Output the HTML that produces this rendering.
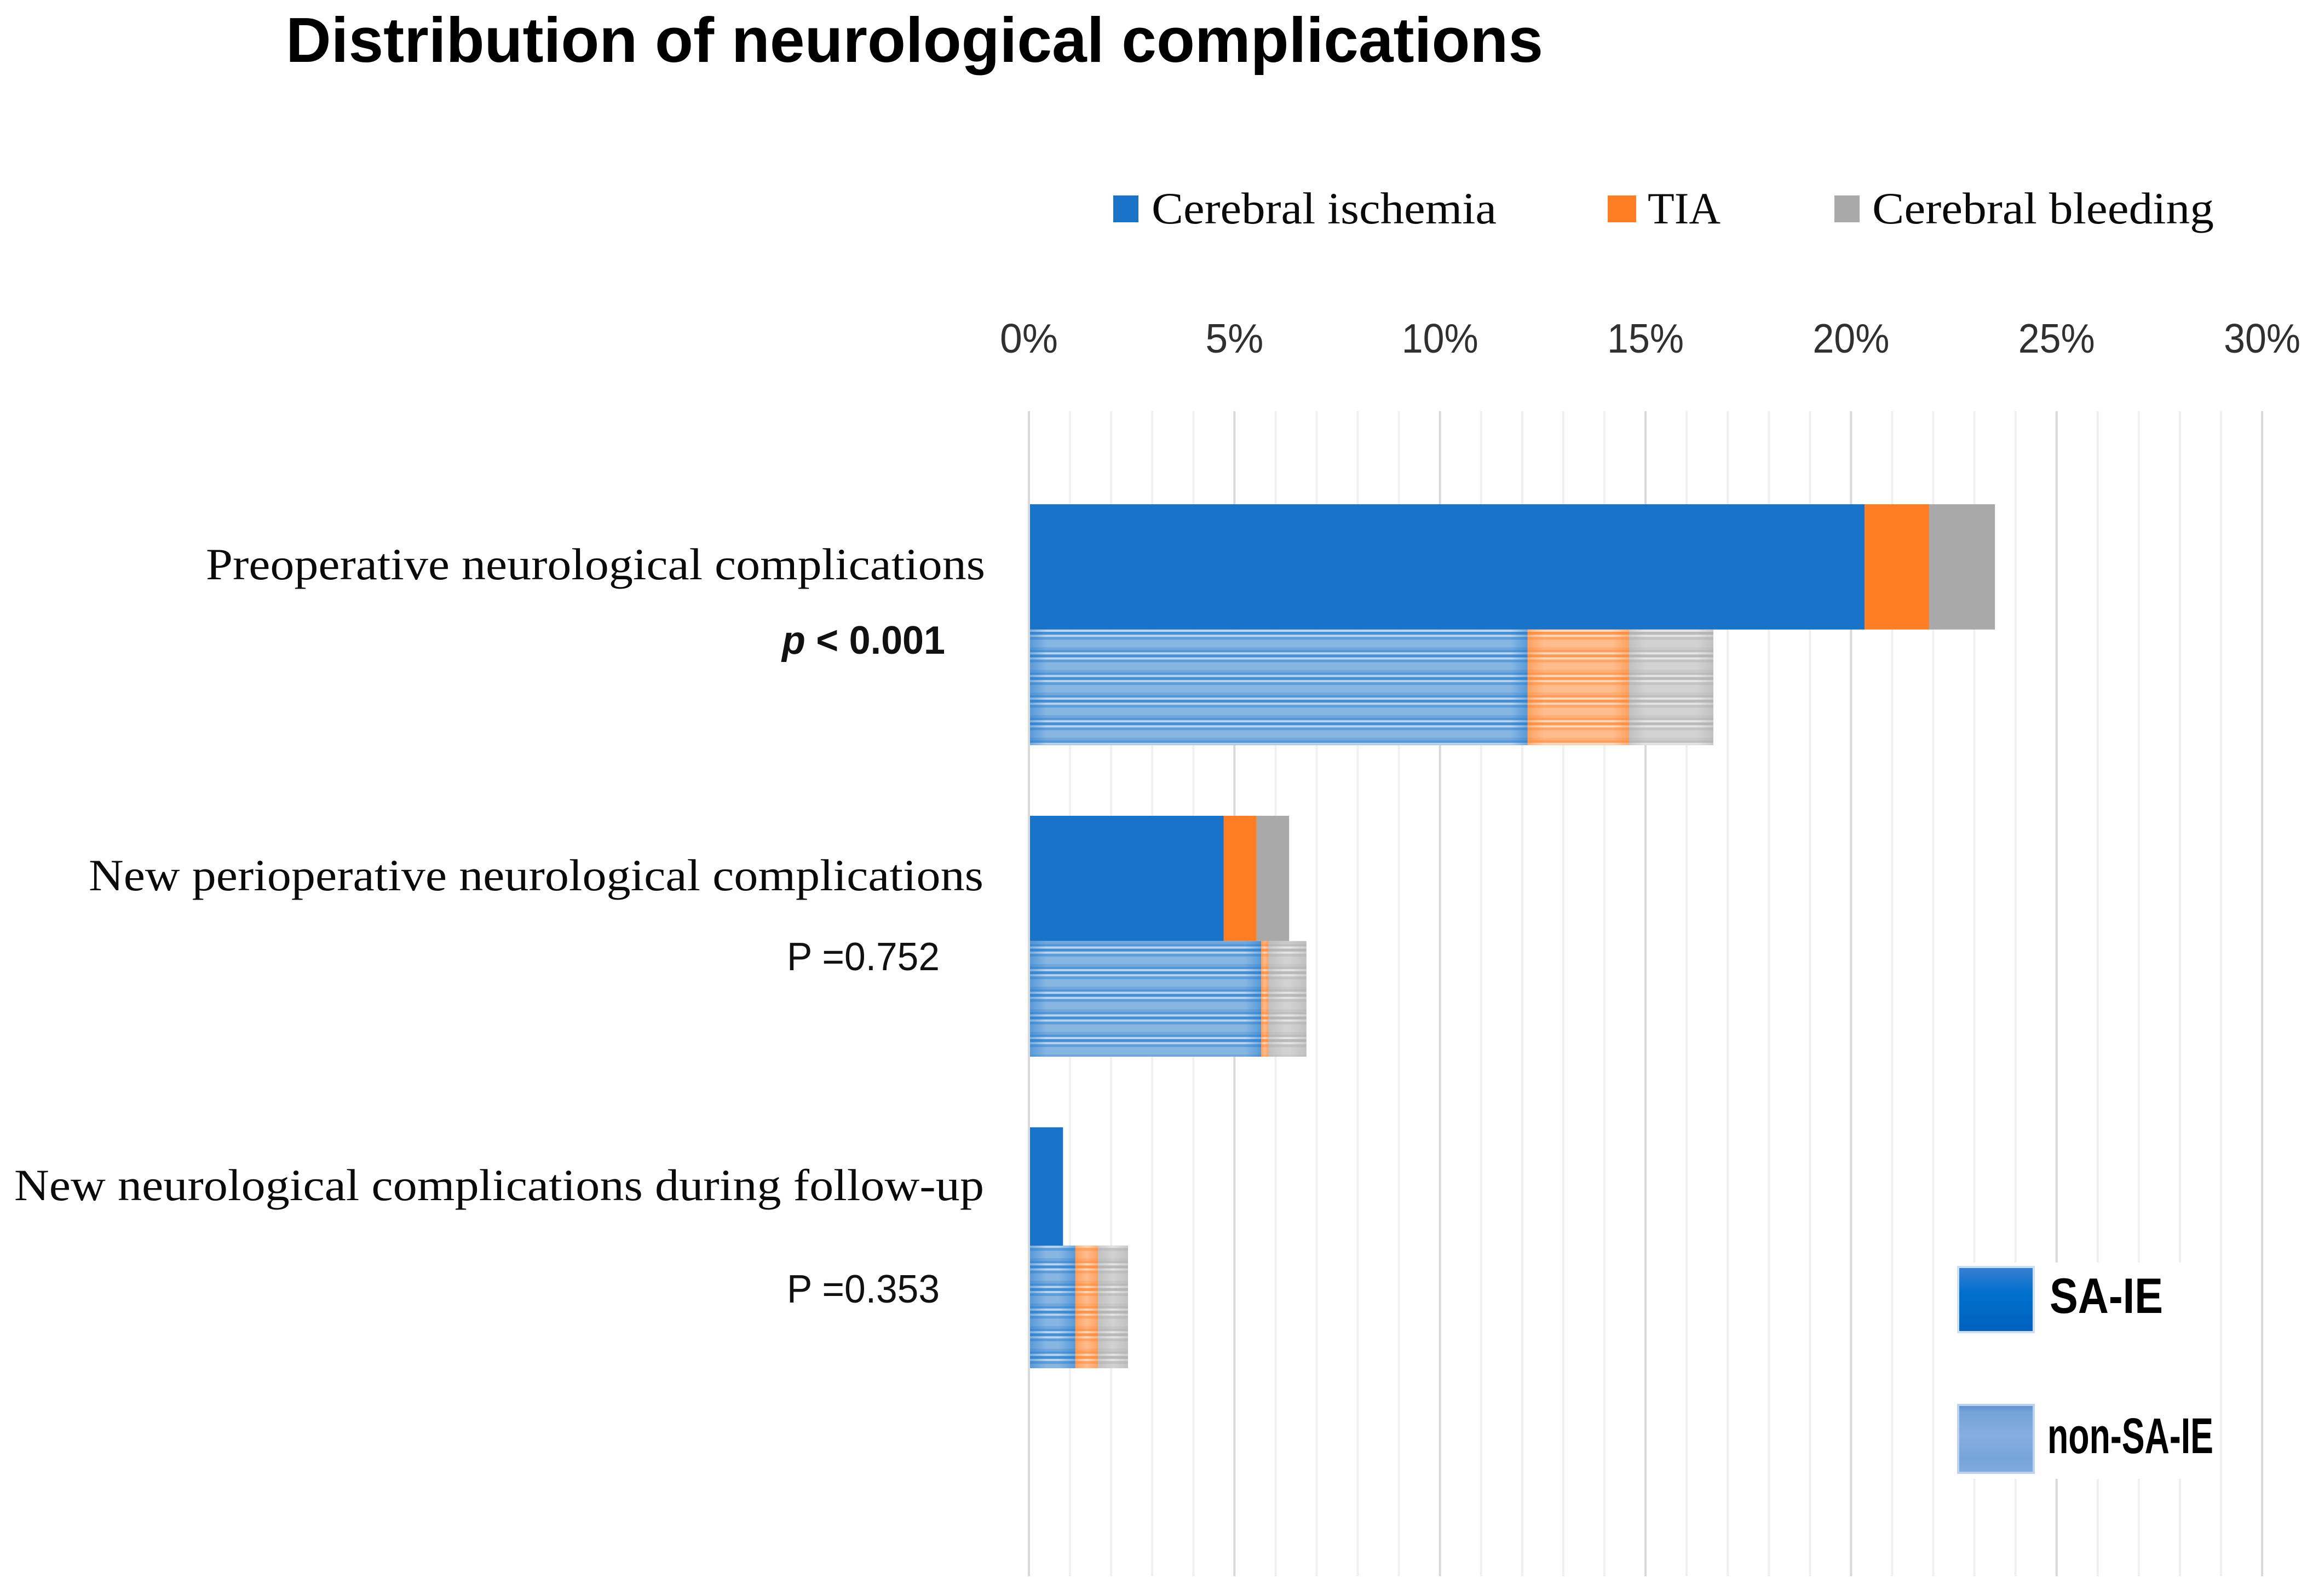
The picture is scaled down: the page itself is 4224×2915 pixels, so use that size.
<!DOCTYPE html>
<html lang="en">
<head>
<meta charset="utf-8">
<title>Distribution of neurological complications</title>
<style>
html,body{margin:0;padding:0;background:#fff;width:4224px;height:2915px;overflow:hidden}
svg{display:block}
.serif{font-family:"Liberation Serif",serif;font-size:82px;fill:#0a0a0a}
.sans{font-family:"Liberation Sans",sans-serif;font-size:72px;fill:#111}
.tick{font-family:"Liberation Sans",sans-serif;font-size:75px;fill:#303030;text-anchor:middle}
</style>
</head>
<body>
<svg id="chart" xmlns="http://www.w3.org/2000/svg" width="4224" height="2915" viewBox="0 0 4224 2915">
  <defs>
    <pattern id="stripes" patternUnits="userSpaceOnUse" width="40" height="41.33" y="1150">
      <rect width="40" height="4" y="0" fill="#fff" opacity=".7"/>
      <rect width="40" height="5.3" y="4" fill="#fff" opacity=".2"/>
      <rect width="40" height="4" y="9.3" fill="#fff" opacity=".7"/>
      <rect width="40" height="5" y="13.3" fill="#fff" opacity=".3"/>
      <rect width="40" height="14" y="18.3" fill="#fff" opacity=".48"/>
      <rect width="40" height="5" y="32.3" fill="#fff" opacity=".38"/>
      <rect width="40" height="4.03" y="37.3" fill="#fff" opacity=".25"/>
    </pattern>
    <linearGradient id="swatch-solid" x1="0" y1="0" x2="0" y2="1">
      <stop offset="0" stop-color="#3b7fd2"/>
      <stop offset=".4" stop-color="#0070cd"/>
      <stop offset="1" stop-color="#0060bd"/>
    </linearGradient>
    <linearGradient id="swatch-striped" x1="0" y1="0" x2="0" y2="1">
      <stop offset="0" stop-color="#5c8fd0"/>
      <stop offset=".1" stop-color="#74a3d8"/>
      <stop offset=".45" stop-color="#86aede"/>
      <stop offset=".8" stop-color="#76a4da"/>
      <stop offset="1" stop-color="#82abdd"/>
    </linearGradient>
  </defs>

  <rect width="4224" height="2915" fill="#fff"/>

  <text x="522" y="113" font-family="'Liberation Sans',sans-serif" font-weight="700" font-size="116" fill="#000" textLength="2296" lengthAdjust="spacingAndGlyphs">Distribution of neurological complications</text>

  <g id="grid"></g>
  <g id="bars"></g>
  <g id="ticks"></g>

  <g>
    <g>
      <rect x="2033" y="357" width="46" height="49" fill="#1873c9"/>
      <text class="serif" x="2103" y="408" textLength="630" lengthAdjust="spacingAndGlyphs">Cerebral ischemia</text>
    </g>
    <g>
      <rect x="2936" y="357" width="52" height="49" fill="#ff7e25"/>
      <text class="serif" x="3009" y="408" textLength="133" lengthAdjust="spacingAndGlyphs">TIA</text>
    </g>
    <g>
      <rect x="3350" y="357" width="46" height="49" fill="#a9a9a9"/>
      <text class="serif" x="3419" y="408" textLength="624" lengthAdjust="spacingAndGlyphs">Cerebral bleeding</text>
    </g>
  </g>

  <g>
    <text class="serif" x="376" y="1058" textLength="1423" lengthAdjust="spacingAndGlyphs">Preoperative neurological complications</text>
    <text class="serif" x="162" y="1626" textLength="1634" lengthAdjust="spacingAndGlyphs">New perioperative neurological complications</text>
    <text class="serif" x="26" y="2192" textLength="1771" lengthAdjust="spacingAndGlyphs">New neurological complications during follow-up</text>
  </g>

  <g>
    <text class="sans" x="1428" y="1194" font-weight="700" textLength="298" lengthAdjust="spacingAndGlyphs"><tspan font-style="italic">p</tspan> &lt; 0.001</text>
    <text class="sans" x="1437" y="1772" textLength="279" lengthAdjust="spacingAndGlyphs">P =0.752</text>
    <text class="sans" x="1437" y="2379" textLength="279" lengthAdjust="spacingAndGlyphs">P =0.353</text>
  </g>

  <rect x="3545" y="2306" width="485" height="395" fill="#fff"/>
  <g>
    <g>
      <rect x="3576" y="2314" width="138" height="119" fill="url(#swatch-solid)" stroke="#cddff5" stroke-width="4"/>
      <text x="3743" y="2398" font-family="'Liberation Sans',sans-serif" font-weight="700" font-size="91" fill="#000" textLength="207" lengthAdjust="spacingAndGlyphs">SA-IE</text>
    </g>
    <g>
      <rect x="3576" y="2566" width="138" height="124" fill="url(#swatch-striped)" stroke="#bcd2ee" stroke-width="4"/>
      <text x="3739" y="2654" font-family="'Liberation Sans',sans-serif" font-weight="700" font-size="92" fill="#000" textLength="303" lengthAdjust="spacingAndGlyphs">non-SA-IE</text>
    </g>
  </g>
</svg>

<script>
// ---- chart data (percent of patients) ----
const categories = ["Preoperative neurological complications", "New perioperative neurological complications", "New neurological complications during follow-up"];
const causes = ["cerebral-ischemia", "tia", "cerebral-bleeding"];
const saIschemia = [20.33, 4.74, 0.83];
const saTia = [1.57, 0.8, 0];
const saBleeding = [1.6, 0.79, 0];
const nonSaIschemia = [12.13, 5.65, 1.13];
const nonSaTia = [2.47, 0.18, 0.55];
const nonSaBleeding = [2.05, 0.92, 0.73];
const tickValues = [0, 5, 10, 15, 20, 25, 30];
const tickLabels = ["0%", "5%", "10%", "15%", "20%", "25%", "30%"];

// ---- layout and axis functions ----
const SVG_NS = "http://www.w3.org/2000/svg";
const causeColors = ["#1873c9", "#ff7e25", "#a9a9a9"];
const plotLeft = 1879, plotPxPerPercent = 75.07, plotTop = 751, plotBottom = 2879;
const groupStart = 921, groupPitch = 569, groupHeight = 440;
const upperRowShare = [0.52, 0.52, 0.491];

function xScale(v) { return plotLeft + v * plotPxPerPercent; }
function groupTop(i) { return groupStart + i * groupPitch; }
function rowTop(i, row) { return row === 0 ? groupTop(i) : groupTop(i) + groupHeight * upperRowShare[i]; }
function rowHeight(i, row) { return row === 0 ? groupHeight * upperRowShare[i] : groupHeight * (1 - upperRowShare[i]); }

function make(tag, attrs, parent) {
  const el = document.createElementNS(SVG_NS, tag);
  for (const k in attrs) el.setAttribute(k, attrs[k]);
  parent.appendChild(el);
  return el;
}

// ---- edge-shade gradients (one per cause, each direction) ----
const defs = document.querySelector("#chart defs");
causeColors.forEach(function (color, c) {
  [["l", 0.42, 0], ["r", 0, 0.42]].forEach(function (d) {
    const g = make("linearGradient", { id: "edge-" + d[0] + c, x1: 0, y1: 0, x2: 1, y2: 0 }, defs);
    make("stop", { offset: 0, "stop-color": color, "stop-opacity": d[1] }, g);
    make("stop", { offset: 1, "stop-color": color, "stop-opacity": d[2] }, g);
  });
});

// ---- gridlines ----
const grid = document.getElementById("grid");
for (let p = 0; p <= 30; p++) {
  const major = tickValues.indexOf(p) >= 0;
  const line = make("line", {
    x1: xScale(p), x2: xScale(p), y1: plotTop, y2: plotBottom,
    stroke: major ? "#d9d9d9" : "#f0f0f0", "stroke-width": 4
  }, grid);
  
  
}

// ---- tick labels ----
const ticksGroup = document.getElementById("ticks");
tickLabels.forEach(function (label, i) {
  const t = make("text", {
    class: "tick", x: xScale(tickValues[i]), y: 644,
    textLength: label.length === 2 ? 106 : 140, lengthAdjust: "spacingAndGlyphs"
  }, ticksGroup);
  t.textContent = label;
  
  
});

// ---- stacked bars ----
const barsGroup = document.getElementById("bars");
function drawRow(row, series, rowName) {
  categories.forEach(function (cat, i) {
    let acc = 0;
    series.forEach(function (values, c) {
      const v = values[i];
      const start = acc;
      acc += v;
      if (v <= 0) return;
      const x = c === 0 ? xScale(start) + 2 : xScale(start);
      const w = xScale(acc) - x;
      const y = rowTop(i, row), h = rowHeight(i, row);
      const bar = make("rect", { x: x, y: y, width: w, height: h, fill: causeColors[c] }, barsGroup);
      
      
      if (row === 1) {
        const stripe = make("rect", { x: x, y: y, width: w, height: h, fill: "url(#stripes)" }, barsGroup);
        
        
        const ew = Math.min(30, w / 2);
        const left = make("rect", { x: x, y: y, width: ew, height: h, fill: "url(#edge-l" + c + ")" }, barsGroup);
        
        
        const right = make("rect", { x: x + w - ew, y: y, width: ew, height: h, fill: "url(#edge-r" + c + ")" }, barsGroup);
        
        
      }
    });
  });
}
drawRow(0, [saIschemia, saTia, saBleeding], "sa-ie");
drawRow(1, [nonSaIschemia, nonSaTia, nonSaBleeding], "non-sa-ie");
</script>
</body>
</html>
